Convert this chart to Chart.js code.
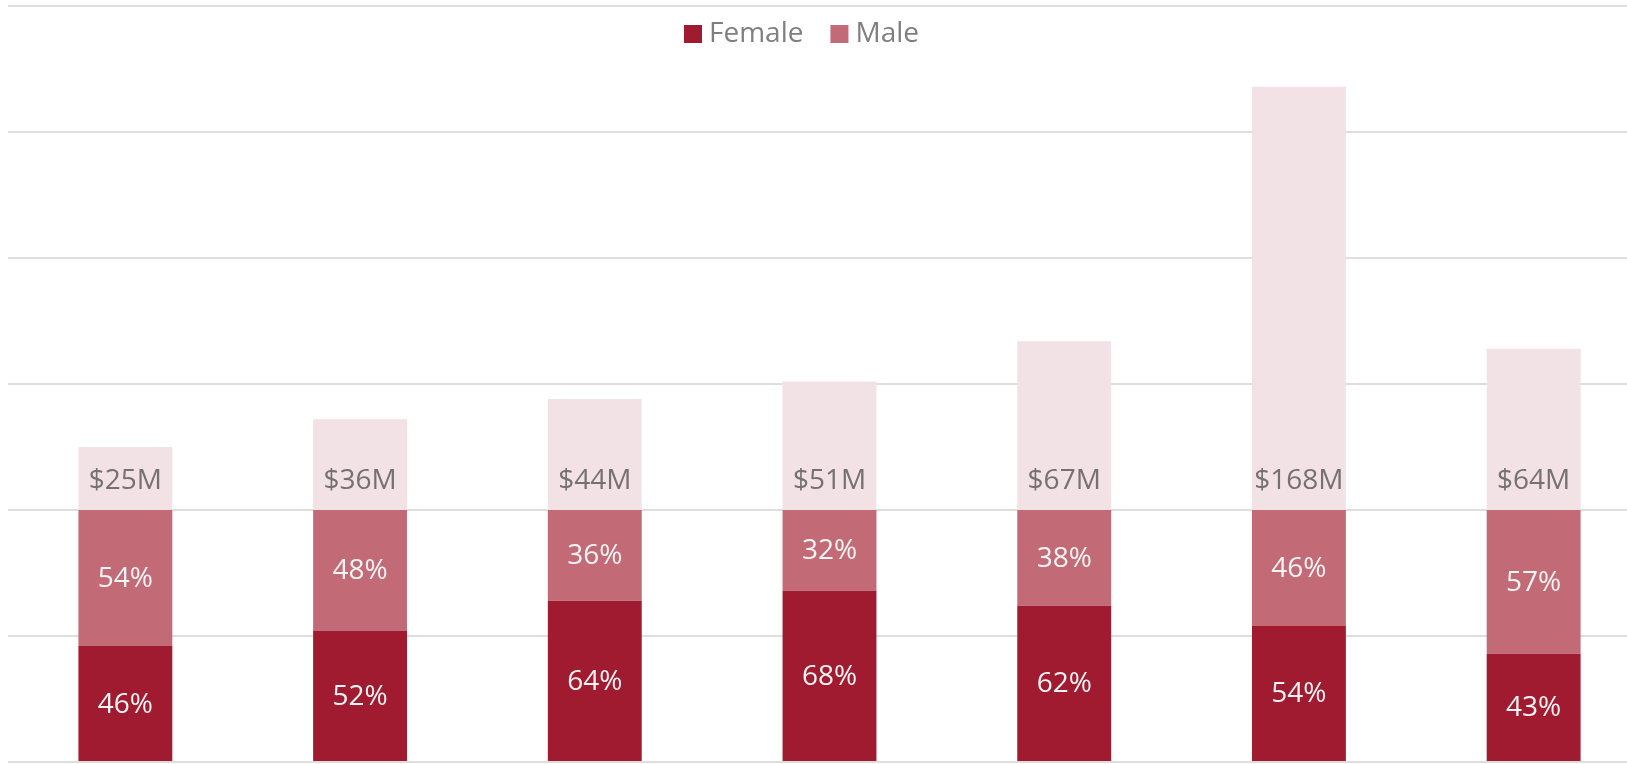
<!DOCTYPE html>
<html>
<head>
<meta charset="utf-8">
<script src="https://cdn.jsdelivr.net/npm/chart.js@4/dist/chart.umd.min.js"></script>
<style>
  html, body { margin: 0; padding: 0; background: #ffffff; overflow: hidden; }
  #wrap { width: 1651px; height: 764px; }
</style>
</head>
<body>
<div id="wrap"><canvas id="chart" width="1651" height="764"></canvas></div>
<script>
// ---------------- DATA ----------------
const groups = ["G1", "G2", "G3", "G4", "G5", "G6", "G7"];
const femaleShare = [46, 52, 64, 68, 62, 54, 43];
const maleShare = [54, 48, 36, 32, 38, 46, 57];
const totalMillions = [25, 36, 44, 51, 67, 168, 64];
const yTicks = [0, 50, 100, 150, 200, 250, 300];

// ---------------- COLOURS ----------------
const FEMALE = "#A01A30";
const MALE = "#C26B77";
const TOTAL = "#F2E1E5";
const FONT = "'Open Sans', sans-serif";

// ---------------- LABELS ON BARS ----------------
const barLabels = {
  id: "barLabels",
  afterDatasetsDraw(chart) {
    const { ctx } = chart;
    ctx.save();
    ctx.font = "28px " + FONT;
    ctx.textAlign = "center";
    ctx.textBaseline = "middle";
    chart.data.datasets.forEach((ds, di) => {
      const meta = chart.getDatasetMeta(di);
      meta.data.forEach((bar, i) => {
        if (ds.kind === "total") {
          ctx.fillStyle = "#767171";
          ctx.fillText("$" + ds.data[i] + "M", bar.x, bar.base - 29);
        } else {
          ctx.fillStyle = "#F4F4F4";
          ctx.fillText(ds.data[i] + "%", bar.x, (bar.y + bar.base) / 2 + 1);
        }
      });
    });
    ctx.restore();
  },
};

// ---------------- LEGEND (Female / Male only) ----------------
const topLegend = {
  id: "topLegend",
  afterDraw(chart) {
    const { ctx } = chart;
    const items = chart.data.datasets.filter((d) => d.kind !== "total");
    ctx.save();
    ctx.font = "28px " + FONT;
    ctx.textBaseline = "middle";
    let x = 684;
    const y = 34;
    items.forEach((d) => {
      ctx.fillStyle = d.backgroundColor;
      ctx.fillRect(x, y - 9, 18, 18);
      ctx.fillStyle = "#7F7F7F";
      ctx.fillText(d.label, x + 25, y);
      x += 25 + ctx.measureText(d.label).width + 27;
    });
    ctx.restore();
  },
};

// ---------------- CHART ----------------
new Chart(document.getElementById("chart"), {
  type: "bar",
  data: {
    labels: groups,
    datasets: [
      { label: "Female", data: femaleShare, backgroundColor: FEMALE, kind: "share" },
      { label: "Male", data: maleShare, backgroundColor: MALE, kind: "share" },
      { label: "Total", data: totalMillions, backgroundColor: TOTAL, kind: "total" },
    ],
  },
  options: {
    responsive: false,
    animation: false,
    layout: { padding: { left: 8, top: 6, right: 0, bottom: 2 } },
    datasets: { bar: { categoryPercentage: 1, barPercentage: 0.4, borderWidth: 0 } },
    plugins: {
      legend: { display: false },
      tooltip: { enabled: false },
    },
    scales: {
      x: {
        stacked: true,
        display: false,
      },
      y: {
        stacked: true,
        min: yTicks[0],
        max: yTicks[yTicks.length - 1],
        afterBuildTicks: (axis) => { axis.ticks = yTicks.map((v) => ({ value: v })); },
        ticks: { display: false },
        border: { display: false },
        grid: { color: "#DEDEDE", lineWidth: 2, drawTicks: false },
      },
    },
  },
  plugins: [barLabels, topLegend],
});
</script>
</body>
</html>
